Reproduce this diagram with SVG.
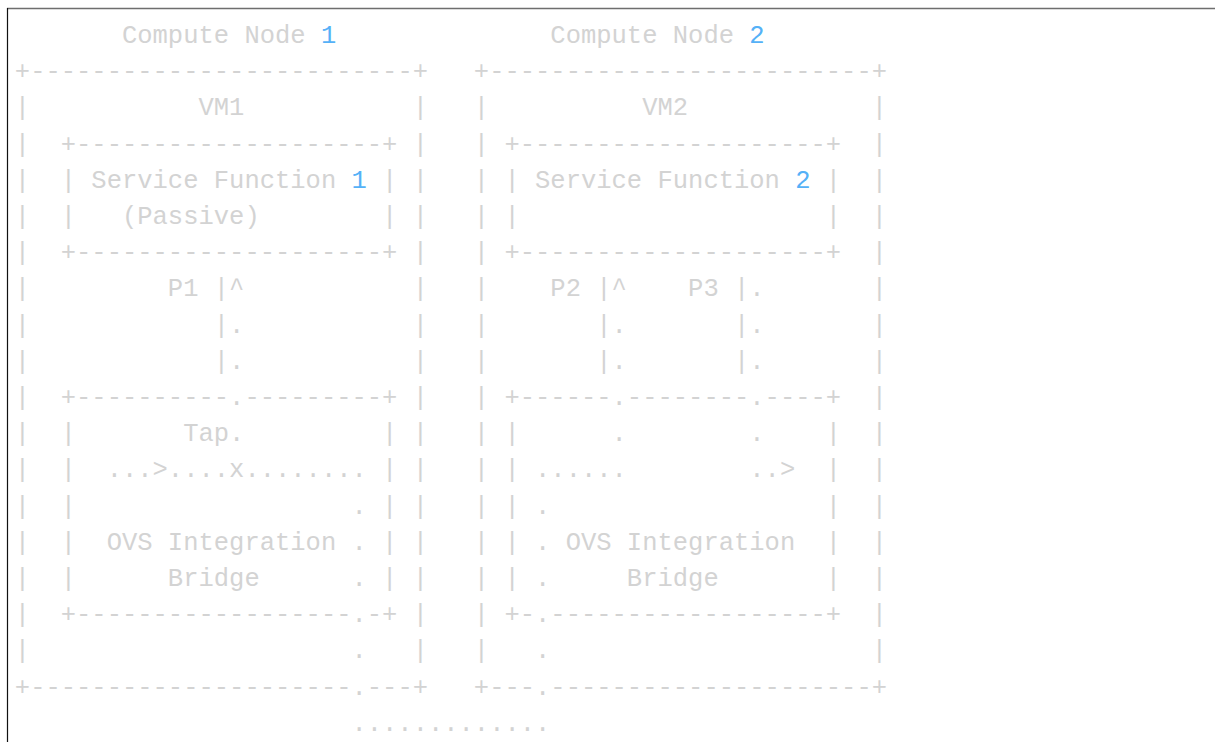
<svg xmlns="http://www.w3.org/2000/svg" width="1215" height="742" viewBox="0 0 1215 742">
<style>
  text { font-family: "Liberation Mono", "DejaVu Sans Mono", monospace; font-size: 25.5px; fill: #d3d3d3; white-space: pre; }
  .num { fill: #55b1f7; }
</style>
<rect x="0" y="0" width="1215" height="742" fill="#ffffff"/>
<g id="frame">
  <line x1="7" y1="8.5" x2="1215" y2="8.5" stroke="#6e6e6e" stroke-width="1.5"/>
  <line x1="7.5" y1="8" x2="7.5" y2="742" stroke="#111111" stroke-width="1.2"/>
</g>
<g id="compute-node-1" xml:space="preserve">
  <text x="14.85" y="43">       Compute Node <tspan class="num">1</tspan></text>
  <text x="14.85" y="79.2">+-------------------------+</text>
  <text x="14.85" y="115.4">|           VM1           |</text>
  <text x="14.85" y="151.6">|  +--------------------+ |</text>
  <text x="14.85" y="187.8">|  | Service Function <tspan class="num">1</tspan> | |</text>
  <text x="14.85" y="224">|  |   (Passive)        | |</text>
  <text x="14.85" y="260.2">|  +--------------------+ |</text>
  <text x="14.85" y="296.4">|         P1 |^           |</text>
  <text x="14.85" y="332.6">|            |.           |</text>
  <text x="14.85" y="368.8">|            |.           |</text>
  <text x="14.85" y="405">|  +----------.---------+ |</text>
  <text x="14.85" y="441.2">|  |       Tap.         | |</text>
  <text x="14.85" y="477.4">|  |  ...&gt;....x........ | |</text>
  <text x="14.85" y="513.6">|  |                  . | |</text>
  <text x="14.85" y="549.8">|  |  OVS Integration . | |</text>
  <text x="14.85" y="586">|  |      Bridge      . | |</text>
  <text x="14.85" y="622.2">|  +------------------.-+ |</text>
  <text x="14.85" y="658.4">|                     .   |</text>
  <text x="14.85" y="694.6">+---------------------.---+</text>
</g>
<g id="compute-node-2" xml:space="preserve">
  <text x="473.85" y="43">     Compute Node <tspan class="num">2</tspan></text>
  <text x="473.85" y="79.2">+-------------------------+</text>
  <text x="473.85" y="115.4">|          VM2            |</text>
  <text x="473.85" y="151.6">| +--------------------+  |</text>
  <text x="473.85" y="187.8">| | Service Function <tspan class="num">2</tspan> |  |</text>
  <text x="473.85" y="224">| |                    |  |</text>
  <text x="473.85" y="260.2">| +--------------------+  |</text>
  <text x="473.85" y="296.4">|    P2 |^    P3 |.       |</text>
  <text x="473.85" y="332.6">|       |.       |.       |</text>
  <text x="473.85" y="368.8">|       |.       |.       |</text>
  <text x="473.85" y="405">| +------.--------.----+  |</text>
  <text x="473.85" y="441.2">| |      .        .    |  |</text>
  <text x="473.85" y="477.4">| | ......        ..&gt;  |  |</text>
  <text x="473.85" y="513.6">| | .                  |  |</text>
  <text x="473.85" y="549.8">| | . OVS Integration  |  |</text>
  <text x="473.85" y="586">| | .     Bridge       |  |</text>
  <text x="473.85" y="622.2">| +-.------------------+  |</text>
  <text x="473.85" y="658.4">|   .                     |</text>
  <text x="473.85" y="694.6">+---.---------------------+</text>
</g>
<g id="connectors" xml:space="preserve">
  <text x="351.45" y="730.8">.............</text>
</g>
</svg>
